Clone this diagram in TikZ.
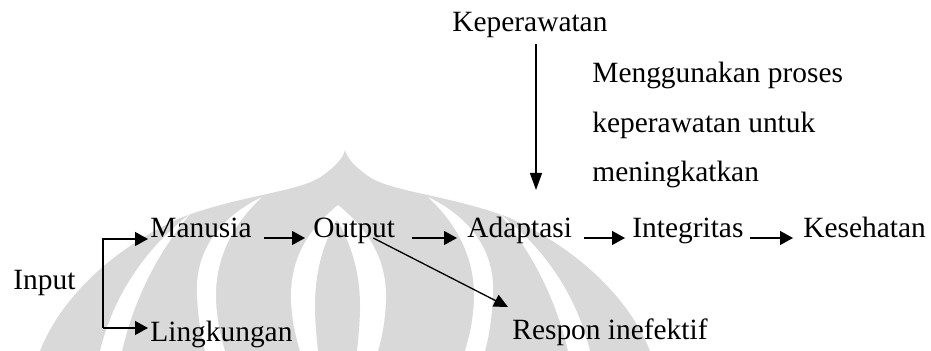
\documentclass[tikz,border=0pt]{standalone}
\usepackage{fontspec}
\setmainfont{Liberation Serif}
\usetikzlibrary{arrows.meta}
\definecolor{wmgray}{gray}{0.85}
\begin{document}
\begin{tikzpicture}[x=0.5pt,y=-0.5pt,
  lbl/.style={inner sep=0pt, anchor=base west, font=\fontsize{14.7pt}{17pt}\selectfont},
  conn/.style={line width=0.65pt, -{Triangle[length=6.5pt,width=7pt]}},
  vconn/.style={line width=0.65pt, -{Triangle[length=8.5pt,width=6pt]}},
  dconn/.style={line width=0.65pt, -{Triangle[length=7pt,width=6.5pt]}}]
\useasboundingbox (0,0) rectangle (931,351);
\clip (0,0) rectangle (931,351);

% faint emblem in the background
\fill[wmgray] (40,351) .. controls (60,300) and (110,250) .. (180,218)
  .. controls (240,195) and (300,192) .. (322,176)
  .. controls (336,166) and (343,158) .. (345,150)
  .. controls (347,158) and (354,166) .. (368,176)
  .. controls (390,192) and (450,195) .. (510,218)
  .. controls (580,250) and (630,300) .. (650,351) -- cycle;
% outer gaps
\fill[white] (190,214) .. controls (150,245) and (115,290) .. (100,351)
  -- (122,351) .. controls (135,295) and (160,250) .. (190,214) -- cycle;
\fill[white] (500,214) .. controls (540,245) and (575,290) .. (590,351)
  -- (568,351) .. controls (555,295) and (530,250) .. (500,214) -- cycle;
% inner bands
\fill[white] (262,197) .. controls (215,220) and (195,255) .. (197,295)
  .. controls (198,320) and (202,340) .. (205,351)
  -- (225,351) .. controls (220,335) and (216,315) .. (216,295)
  .. controls (216,258) and (232,225) .. (262,197) -- cycle;
\fill[white] (428,197) .. controls (475,220) and (495,255) .. (493,295)
  .. controls (492,320) and (488,340) .. (485,351)
  -- (465,351) .. controls (470,335) and (474,315) .. (474,295)
  .. controls (474,258) and (458,225) .. (428,197) -- cycle;
% central flame
\fill[white] (338,205) .. controls (305,232) and (290,262) .. (291,300)
  .. controls (292,325) and (297,340) .. (300,351)
  -- (378,351) .. controls (381,340) and (385,325) .. (386,300)
  .. controls (387,262) and (371,232) .. (338,205) -- cycle;
\fill[wmgray] (337,220) .. controls (322,245) and (315,275) .. (315,305)
  .. controls (315,325) and (317,340) .. (318,351)
  -- (357,351) .. controls (358,340) and (360,325) .. (360,305)
  .. controls (360,275) and (352,245) .. (337,220) -- cycle;

% labels
\node[lbl] (kep) at (452,32) {Keperawatan};
\node[lbl] (n1) at (592,83) {Menggunakan proses};
\node[lbl] (n2) at (592,133) {keperawatan untuk};
\node[lbl] (n3) at (592,182) {meningkatkan};
\node[lbl] (input) at (13,290) {Input};
\node[lbl] (manusia) at (150,238) {Manusia};
\node[lbl] (lingk) at (150,342) {Lingkungan};
\node[lbl] (output) at (313,238) {Output};
\node[lbl] (adapt) at (467,238) {Adaptasi};
\node[lbl] (integ) at (632,238) {Integritas};
\node[lbl] (sehat) at (803,238) {Kesehatan};
\node[lbl] (respon) at (512,340) {Respon inefektif};

% connectors
\coordinate (bt) at (103,239);
\coordinate (bb) at (103,328);
\coordinate (vtip) at (536,190);
\coordinate (rtip) at (508,307);
\draw[conn, shorten >=1pt] (bb) -- (bt) -- (bt -| manusia.west);
\draw[conn, shorten >=1pt] (bb) -- (bb -| lingk.west);
\draw[vconn, shorten <=2.5pt] (kep.south -| vtip) -- (vtip);
\draw[conn, shorten <=6pt, shorten >=4pt] (manusia.base east) -- (output.base west);
\draw[conn, shorten <=8.5pt, shorten >=5pt] (output.base east) -- (adapt.base west);
\draw[conn, shorten <=6pt, shorten >=3.5pt] (adapt.base east) -- (integ.base west);
\draw[conn, shorten <=3pt, shorten >=5pt] (integ.base east) -- (sehat.base west);
\draw[dconn] ([xshift=9.5pt]output.base) -- (rtip);
\end{tikzpicture}
\end{document}
